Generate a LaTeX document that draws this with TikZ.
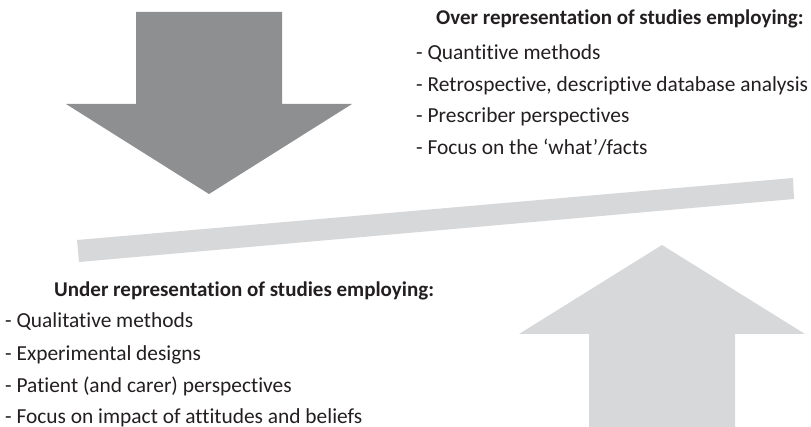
\documentclass[tikz,border=0pt]{standalone}
\usepackage{fontspec}
\setmainfont{Carlito}[Ligatures={TeX,NoCommon}]
\definecolor{darkgray}{HTML}{8E8F91}
\definecolor{lightgray}{HTML}{D7D8DA}
\definecolor{txt}{HTML}{231F20}
\tikzset{
  txtline/.style={anchor=base west, inner sep=0pt, text=txt, font=\fontsize{21.4}{25}\selectfont},
  head/.style={anchor=base west, inner sep=0pt, text=txt, font=\fontsize{21}{25}\selectfont\bfseries}
}
\begin{document}
\begin{tikzpicture}[x=1pt,y=-1pt]
\useasboundingbox (0,0) rectangle (811,427);
% dark down arrow
\fill[darkgray] (136,12) -- (282,12) -- (282,104) -- (352,104) -- (209,194) -- (66,104) -- (136,104) -- cycle;
% light up arrow
\fill[lightgray] (589,430) -- (589,334) -- (519,334) -- (662,245) -- (805,334) -- (735,334) -- (735,430) -- cycle;
% tilted bar
\fill[lightgray] (77,240) -- (793,178) -- (794,199) -- (79,262) -- cycle;
% top text
\node[head] (oh) at (436,25) {Over representation of studies employing:};
\node[txtline] (o1) at (416,59.5) {- Quantitive methods};
\node[txtline] (o2) at (416,91.5) {- Retrospective, descriptive database analysis};
\node[txtline] (o3) at (416,123) {- Prescriber perspectives};
\node[txtline] (o4) at (416,155) {- Focus on the ‘what’/facts};
% bottom text
\node[head] (uh) at (54,297) {Under representation of studies employing:};
\node[txtline] (u1) at (5,327.5) {- Qualitative methods};
\node[txtline] (u2) at (5,360) {- Experimental designs};
\node[txtline] (u3) at (5,392) {- Patient (and carer) perspectives};
\node[txtline] (u4) at (5,423) {- Focus on impact of attitudes and beliefs};
\end{tikzpicture}
\end{document}
